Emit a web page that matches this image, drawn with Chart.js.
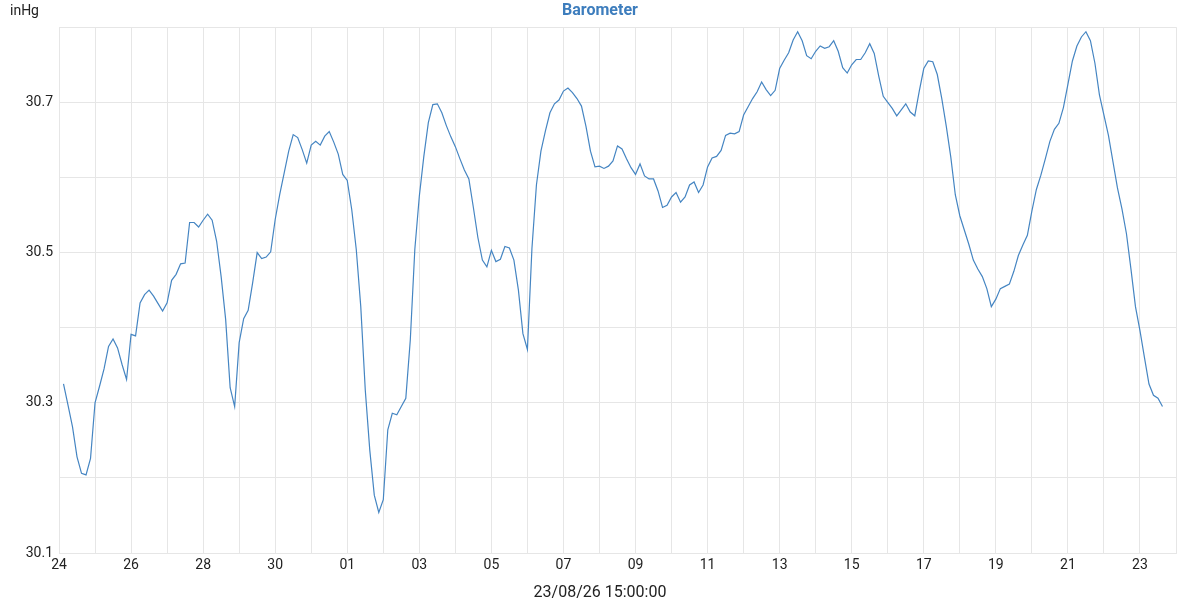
<!DOCTYPE html>
<html>
<head>
<meta charset="utf-8">
<script src="https://cdn.jsdelivr.net/npm/chart.js@4/dist/chart.umd.min.js"></script>
<style>
  html, body { margin: 0; padding: 0; background: #fff; }
  #wrap { width: 1200px; height: 600px; }
</style>
</head>
<body>
<div id="wrap"><canvas id="baro" width="1200" height="600"></canvas></div>
<script>
// readings every 3 hours, last one at 23/08 15:00
const pressure = [
  30.325, 30.297, 30.268, 30.228, 30.206, 30.204, 30.226, 30.300, 30.322, 30.345,
  30.375, 30.385, 30.373, 30.351, 30.331, 30.391, 30.389, 30.433, 30.444, 30.450,
  30.442, 30.432, 30.422, 30.433, 30.463, 30.471, 30.485, 30.486, 30.540, 30.540,
  30.534, 30.543, 30.551, 30.543, 30.515, 30.468, 30.411, 30.320, 30.295, 30.380,
  30.412, 30.423, 30.460, 30.500, 30.492, 30.494, 30.501, 30.544, 30.577, 30.606,
  30.635, 30.657, 30.653, 30.637, 30.619, 30.643, 30.648, 30.643, 30.655, 30.661,
  30.647, 30.631, 30.604, 30.596, 30.557, 30.504, 30.428, 30.317, 30.237, 30.177,
  30.154, 30.171, 30.264, 30.286, 30.284, 30.295, 30.306, 30.384, 30.504, 30.575,
  30.628, 30.673, 30.697, 30.698, 30.686, 30.669, 30.654, 30.641, 30.625, 30.610,
  30.598, 30.560, 30.520, 30.490, 30.481, 30.503, 30.488, 30.491, 30.508, 30.506,
  30.490, 30.450, 30.392, 30.371, 30.505, 30.590, 30.635, 30.662, 30.686, 30.698,
  30.703, 30.715, 30.719, 30.713, 30.705, 30.695, 30.668, 30.635, 30.614, 30.615,
  30.612, 30.615, 30.622, 30.642, 30.638, 30.625, 30.613, 30.604, 30.618, 30.602,
  30.598, 30.598, 30.582, 30.560, 30.563, 30.574, 30.580, 30.567, 30.574, 30.590,
  30.594, 30.580, 30.590, 30.614, 30.626, 30.628, 30.636, 30.656, 30.659, 30.658,
  30.661, 30.683, 30.694, 30.705, 30.714, 30.727, 30.717, 30.709, 30.716, 30.745,
  30.756, 30.766, 30.783, 30.794, 30.782, 30.762, 30.758, 30.768, 30.775, 30.772,
  30.774, 30.782, 30.768, 30.746, 30.739, 30.750, 30.757, 30.757, 30.766, 30.778,
  30.765, 30.735, 30.708, 30.700, 30.692, 30.682, 30.690, 30.698, 30.687, 30.682,
  30.715, 30.745, 30.755, 30.754, 30.737, 30.705, 30.668, 30.627, 30.577, 30.549,
  30.530, 30.511, 30.490, 30.478, 30.468, 30.452, 30.428, 30.438, 30.452, 30.455,
  30.458, 30.475, 30.496, 30.510, 30.523, 30.555, 30.584, 30.603, 30.625, 30.648,
  30.664, 30.672, 30.693, 30.724, 30.755, 30.775, 30.787, 30.794, 30.782, 30.752,
  30.710, 30.683, 30.656, 30.621, 30.586, 30.558, 30.525, 30.478, 30.428, 30.396,
  30.360, 30.325, 30.310, 30.306, 30.295
];

// x axis runs in hours from 24 Jul 00:00
const lastHour = 30 * 24 + 15;
const stepHours = 3;
const dayLabels = ["24", "25", "26", "27", "28", "29", "30", "31",
  "01", "02", "03", "04", "05", "06", "07", "08", "09", "10", "11", "12",
  "13", "14", "15", "16", "17", "18", "19", "20", "21", "22", "23", "24"];
const yTicks = [30.1, 30.3, 30.5, 30.7];

const nowLabel = "23/08/26 15:00:00";
const unitLabel = "inHg";

const points = pressure.map((v, i) => ({
  x: lastHour - (pressure.length - 1 - i) * stepHours,
  y: v,
}));

const gridColor = "#e6e6e6";
const lineColor = "#4585c2";
const font = "Roboto";

// unit at top left, timestamp centred under the x axis
const labelsPlugin = {
  id: "extraLabels",
  afterDraw(chart) {
    const ctx = chart.ctx;
    ctx.save();
    ctx.fillStyle = "#222";
    ctx.textBaseline = "middle";
    ctx.font = "14px " + font;
    ctx.textAlign = "left";
    ctx.fillText(unitLabel, 10, 11);
    ctx.font = "16px " + font;
    ctx.textAlign = "center";
    ctx.fillText(nowLabel, 600, 593);
    ctx.restore();
  },
};

new Chart(document.getElementById("baro"), {
  type: "line",
  data: {
    datasets: [{
      label: "Barometer",
      data: points,
      borderColor: lineColor,
      borderWidth: 1.2,
      pointRadius: 0,
      fill: false,
      tension: 0,
    }],
  },
  options: {
    responsive: false,
    animation: false,
    layout: { padding: { left: 24, right: 24, top: 0, bottom: 0 } },
    plugins: {
      legend: { display: false },
      tooltip: { enabled: false },
      title: {
        display: true,
        text: "Barometer",
        color: "#3d7dbd",
        font: { family: font, size: 16, weight: "bold" },
        padding: { top: 1, bottom: 7 },
      },
    },
    scales: {
      x: {
        type: "linear",
        min: 0,
        max: 31 * 24,
        grid: { color: gridColor, drawTicks: false },
        border: { color: gridColor },
        ticks: {
          stepSize: 24,
          autoSkip: false,
          maxRotation: 0,
          padding: 4,
          color: "#222",
          font: { family: font, size: 14 },
          callback: (v) => {
            const d = Math.round(v / 24);
            return d % 2 === 0 ? dayLabels[d] : "";
          },
        },
        afterFit: (s) => { s.height = 47; },
      },
      y: {
        min: 30.1,
        max: 30.8,
        grid: { color: gridColor, drawTicks: false },
        border: { color: gridColor },
        ticks: {
          stepSize: 0.1,
          padding: 6,
          color: "#222",
          font: { family: font, size: 14 },
          callback: (v) => {
            const t = yTicks.find((y) => Math.abs(y - v) < 1e-6);
            return t === undefined ? "" : t.toFixed(1);
          },
        },
        afterFit: (s) => { s.width = 35; },
      },
    },
  },
  plugins: [labelsPlugin],
});
</script>
</body>
</html>
